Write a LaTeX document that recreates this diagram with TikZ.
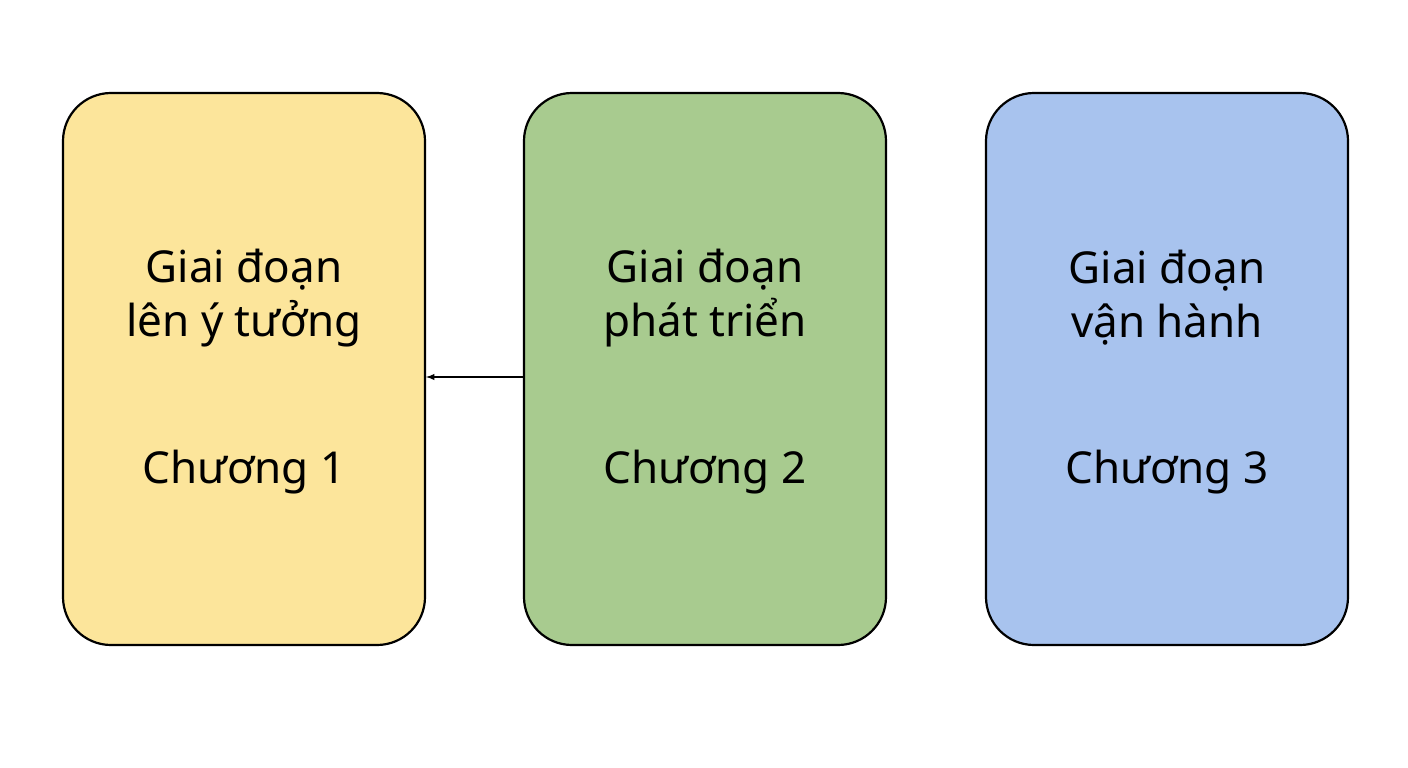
\documentclass[tikz,border=0pt]{standalone}
\usepackage{fontspec}
\setmainfont{Noto Sans}
\usetikzlibrary{positioning}
\definecolor{stageyellow}{HTML}{FCE59B}
\definecolor{stagegreen}{HTML}{A8CB8F}
\definecolor{stageblue}{HTML}{A8C3EE}
\tikzset{
  stage/.style={draw=black, line width=2.2pt, rounded corners=48pt,
    minimum width=362pt, minimum height=552pt, inner sep=0pt},
  label/.style={font=\fontsize{44}{54}\selectfont, align=center},
}
\begin{document}
\begin{tikzpicture}[x=1pt,y=-1pt]
  \useasboundingbox (0,0) rectangle (1408,768);
  %%% BOXES %%%
  \node[stage, fill=stageyellow] (s1) at (244,369) {};
  \node[stage, fill=stagegreen] (s2) at (705,369) {};
  \node[stage, fill=stageblue] (s3) at (1167,369) {};
  %%% TEXTS %%%
  \node[label] (t1) at (244,298) {Giai đoạn\\\textbf{lên ý tưởng}};
  \node[label] (c1) at (244,472) {Chương 1};
  \node[label] (t2) at (705,298) {Giai đoạn\\\textbf{phát triển}};
  \node[label] (c2) at (705,472) {Chương 2};
  \node[label] (t3) at (1167,298) {Giai đoạn\\\textbf{vận hành}};
  \node[label] (c3) at (1167,472) {Chương 3};
  %%% ARROW %%%
  \draw[-latex, line width=1.8pt] ([yshift=-8pt]s2.west) -- ([yshift=-8pt]s1.east);
\end{tikzpicture}
\end{document}
